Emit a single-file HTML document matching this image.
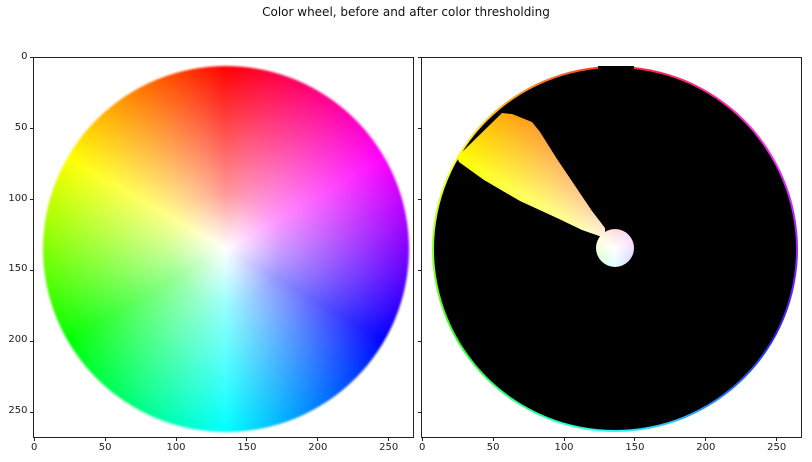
<!DOCTYPE html>
<html><head><meta charset="utf-8"><style>
body{margin:0;width:812px;height:462px;background:#fff;position:relative;overflow:hidden;font-family:"DejaVu Sans","Liberation Sans",sans-serif;}
.ax{position:absolute;top:57px;width:381px;height:381px;border:1px solid #222;box-sizing:border-box;overflow:hidden;}
.wheel{position:absolute;border-radius:50%;background:radial-gradient(circle closest-side,#fff 0%,rgba(255,255,255,0.6) 30%,rgba(255,255,255,0) 100%),conic-gradient(#f00,#f0f 60deg,#00f 120deg,#0ff 180deg,#0f0 240deg,#ff0 300deg,#f00 360deg);}
.tick{position:absolute;background:#222;}
.lbl{position:absolute;font-size:10px;color:#222;}
#title{position:absolute;top:5px;left:0;width:812px;text-align:center;font-size:12px;color:#111;}
</style></head><body>
<div id="title">Color wheel, before and after color thresholding</div>
<div class="ax" id="ax1" style="left:33px">
 <div class="wheel" style="left:9px;top:8px;width:366px;height:366px;filter:blur(1px)"></div>
</div>
<div class="ax" id="ax2" style="left:421px">
 <div class="wheel" style="left:10px;top:8px;width:366px;height:366px;opacity:0.85"></div>
 <div style="position:absolute;left:12px;top:10px;width:362px;height:362px;border-radius:50%;background:#000"></div>
 <div style="position:absolute;left:176px;top:8px;width:36px;height:20px;background:#000"></div>
 <div class="wheel" style="left:10px;top:8px;width:366px;height:366px;clip-path:polygon(25px 91px,70px 47px,80px 48px,100px 56px,108px 66px,125px 93px,160px 145px,173px 162px,173px 172px,150px 164px,125px 152px,88px 135px,52px 114px,27px 96px)"></div>
 <div class="wheel" style="left:10px;top:8px;width:366px;height:366px;clip-path:circle(19px at 183px 182px)"></div>
</div>
<script>
const tickValues=[0,50,100,150,200,250];
const tickLabels=["0","50","100","150","200","250"];
const scale=380/268;
function pos(v){return (v+0.5)*scale;}
function addTicks(left,showY){
  tickValues.forEach((v,i)=>{
    const x=left+pos(v);
    const t=document.createElement('div');t.className='tick';
    
    
    t.style.left=(x-0.5)+'px';t.style.top='437px';t.style.width='1px';t.style.height='4px';document.body.appendChild(t);
    const l=document.createElement('div');l.className='lbl';
    
    
    l.textContent=tickLabels[i];l.style.left=(x-20)+'px';l.style.width='40px';l.style.textAlign='center';l.style.top='442px';document.body.appendChild(l);
    const y=57+pos(v);
    const ty=document.createElement('div');ty.className='tick';
    
    
    ty.style.left=(left-4)+'px';ty.style.top=(y-0.5)+'px';ty.style.width='4px';ty.style.height='1px';document.body.appendChild(ty);
    if(showY){
      const ly=document.createElement('div');ly.className='lbl';
      
      
      ly.textContent=tickLabels[i];ly.style.left=(left-46)+'px';ly.style.width='40px';ly.style.textAlign='right';ly.style.top=(y-7)+'px';document.body.appendChild(ly);
    }
  });
}
addTicks(33.5,true);
addTicks(421.5,false);
</script>
</body></html>
